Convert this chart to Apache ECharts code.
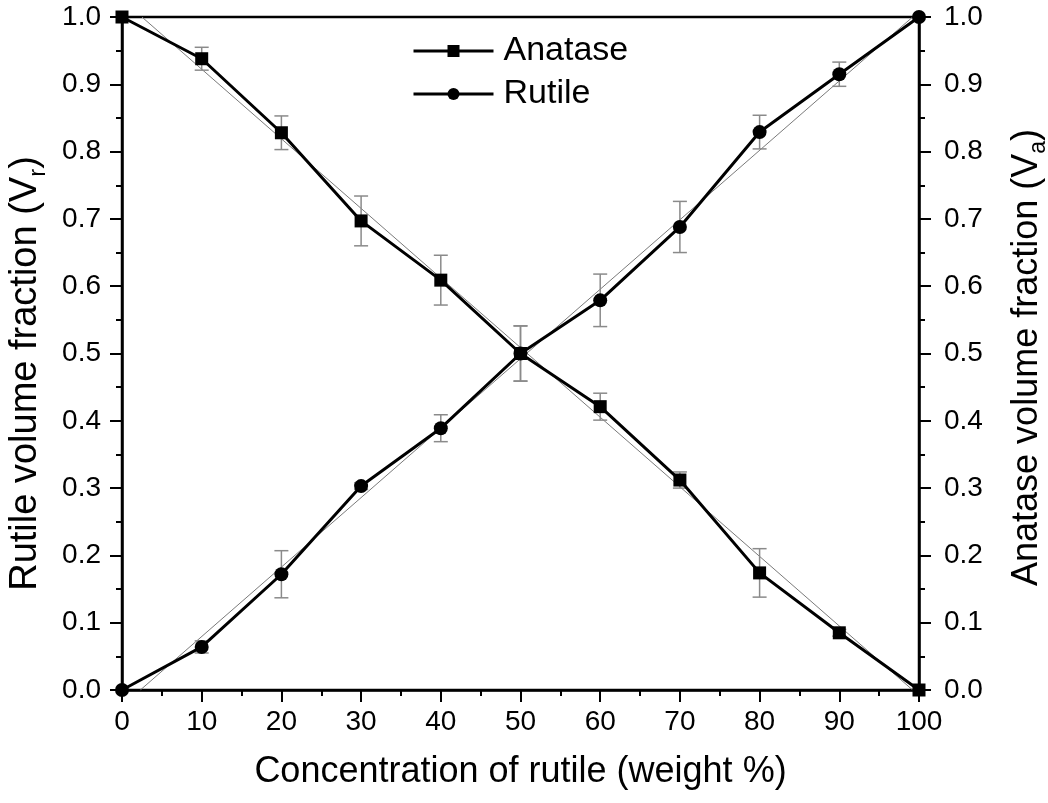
<!DOCTYPE html>
<html>
<head>
<meta charset="utf-8">
<script src="https://cdn.jsdelivr.net/npm/echarts@6/dist/echarts.min.js"></script>
<style>
  html, body { margin: 0; padding: 0; background: #ffffff; }
  #chart { width: 1048px; height: 803px; }
</style>
</head>
<body>
<div id="chart"></div>
<script>
// Rutile concentration (weight %)
const concentration = [0, 10, 20, 30, 40, 50, 60, 70, 80, 90, 100];
// Anatase volume fraction (Va) and its error
const anatase    = [1.000, 0.938, 0.828, 0.697, 0.609, 0.500, 0.421, 0.312, 0.174, 0.085, 0.000];
const anataseErr = [0.000, 0.017, 0.025, 0.037, 0.037, 0.041, 0.020, 0.012, 0.036, 0.005, 0.000];
// Rutile volume fraction (Vr) and its error
const rutile     = [0.000, 0.064, 0.172, 0.303, 0.389, 0.500, 0.579, 0.688, 0.829, 0.915, 1.000];
const rutileErr  = [0.000, 0.009, 0.035, 0.005, 0.020, 0.041, 0.039, 0.038, 0.025, 0.018, 0.000];
// Linear fit lines (end points within the plot frame)
const anataseFit = [[2.5, 1.0], [99.2, 0.0]];
const rutileFit  = [[2.3, 0.0], [99.2, 1.0]];

const FONT = 'Liberation Sans, Arial, sans-serif';

const pairs = (xs, ys) => xs.map((x, i) => [x, ys[i]]);
const errData = (xs, ys, es) => xs.map((x, i) => [x, ys[i] - es[i], ys[i] + es[i]]);

function renderErr(params, api) {
  const x = api.value(0);
  const lo = api.coord([x, api.value(1)]);
  const hi = api.coord([x, api.value(2)]);
  if (Math.abs(hi[1] - lo[1]) < 1) return null;
  const half = 7;
  const style = { stroke: '#8a8a8a', lineWidth: 1.5, fill: null };
  return {
    type: 'group',
    children: [
      { type: 'line', shape: { x1: lo[0], y1: lo[1], x2: hi[0], y2: hi[1] }, style },
      { type: 'line', shape: { x1: lo[0] - half, y1: lo[1], x2: lo[0] + half, y2: lo[1] }, style },
      { type: 'line', shape: { x1: hi[0] - half, y1: hi[1], x2: hi[0] + half, y2: hi[1] }, style }
    ]
  };
}

const yAxisCommon = {
  type: 'value',
  min: 0,
  max: 1,
  interval: 0.1,
  nameLocation: 'middle',
  nameRotate: 90,
  axisLine: { show: true, onZero: false, lineStyle: { color: '#000', width: 2.5 } },
  axisTick: { show: true, inside: false, length: 12, lineStyle: { color: '#000', width: 2 } },
  minorTick: { show: true, splitNumber: 2, length: 6, lineStyle: { color: '#000', width: 2 } },
  splitLine: { show: false },
  axisLabel: {
    fontFamily: FONT, fontSize: 28, color: '#000',
    formatter: v => v.toFixed(1)
  }
};

const makeRich = (size) => ({
  a: { fontFamily: FONT, fontSize: size, color: '#000' },
  s: { fontFamily: FONT, fontSize: Math.round(size * 0.64), color: '#000', padding: [Math.round(size * 0.62), 0, 0, 0] }
});

const option = {
  backgroundColor: '#ffffff',
  animation: false,
  grid: {
    left: 122, right: 129, top: 17, bottom: 113,
    outerBoundsMode: 'none',
    containLabel: false,
    show: true, borderColor: '#000', borderWidth: 2.5, backgroundColor: 'transparent'
  },
  legend: {
    data: ['Anatase', 'Rutile'],
    orient: 'vertical',
    left: 407,
    top: 29,
    itemWidth: 80,
    itemHeight: 15,
    itemGap: 9,
    lineStyle: { width: 3, color: '#000' },
    textStyle: { fontFamily: FONT, fontSize: 34, color: '#000', lineHeight: 34, padding: [0, 0, 0, 5] }
  },
  xAxis: {
    type: 'value',
    min: 0,
    max: 100,
    interval: 10,
    name: 'Concentration of rutile (weight %)',
    nameLocation: 'middle',
    nameGap: 64,
    nameTextStyle: { fontFamily: FONT, fontSize: 36, color: '#000' },
    axisLine: { show: true, onZero: false, lineStyle: { color: '#000', width: 2.5 } },
    axisTick: { show: true, inside: false, length: 12, lineStyle: { color: '#000', width: 2 } },
    minorTick: { show: true, splitNumber: 2, length: 6, lineStyle: { color: '#000', width: 2 } },
    splitLine: { show: false },
    axisLabel: { fontFamily: FONT, fontSize: 28, color: '#000', margin: 18 }
  },
  yAxis: [
    Object.assign({}, yAxisCommon, {
      position: 'left',
      name: '{a|Rutile volume fraction (V}{s|r}{a|)}',
      nameGap: 72,
      nameTextStyle: { rich: makeRich(38), padding: [0, 40, 0, 0] },
      axisLabel: Object.assign({}, yAxisCommon.axisLabel, { margin: 21 })
    }),
    Object.assign({}, yAxisCommon, {
      position: 'right',
      name: '{a|Anatase volume fraction (V}{s|a}{a|)}',
      nameGap: 86,
      nameTextStyle: { rich: makeRich(36), padding: [0, 8, 0, 0] },
      axisLabel: Object.assign({}, yAxisCommon.axisLabel, { margin: 25 })
    })
  ],
  series: [
    {
      name: 'anataseFit', type: 'line', data: anataseFit, yAxisIndex: 1,
      showSymbol: false, silent: true, z: 1,
      lineStyle: { color: '#7a7a7a', width: 1 }
    },
    {
      name: 'rutileFit', type: 'line', data: rutileFit, yAxisIndex: 0,
      showSymbol: false, silent: true, z: 1,
      lineStyle: { color: '#7a7a7a', width: 1 }
    },
    {
      name: 'anataseErr', type: 'custom', yAxisIndex: 1, z: 2,
      renderItem: renderErr, data: errData(concentration, anatase, anataseErr),
      encode: { x: 0, y: [1, 2] }
    },
    {
      name: 'rutileErr', type: 'custom', yAxisIndex: 0, z: 2,
      renderItem: renderErr, data: errData(concentration, rutile, rutileErr),
      encode: { x: 0, y: [1, 2] }
    },
    {
      name: 'Anatase', type: 'line', yAxisIndex: 1, z: 3,
      data: pairs(concentration, anatase),
      symbol: 'rect', symbolSize: 13,
      itemStyle: { color: '#000' },
      lineStyle: { color: '#000', width: 3 }
    },
    {
      name: 'Rutile', type: 'line', yAxisIndex: 0, z: 3,
      data: pairs(concentration, rutile),
      symbol: 'circle', symbolSize: 14,
      itemStyle: { color: '#000' },
      lineStyle: { color: '#000', width: 3 }
    }
  ]
};

const chart = echarts.init(document.getElementById('chart'), null, { renderer: 'canvas' });
chart.setOption(option);
</script>
</body>
</html>
